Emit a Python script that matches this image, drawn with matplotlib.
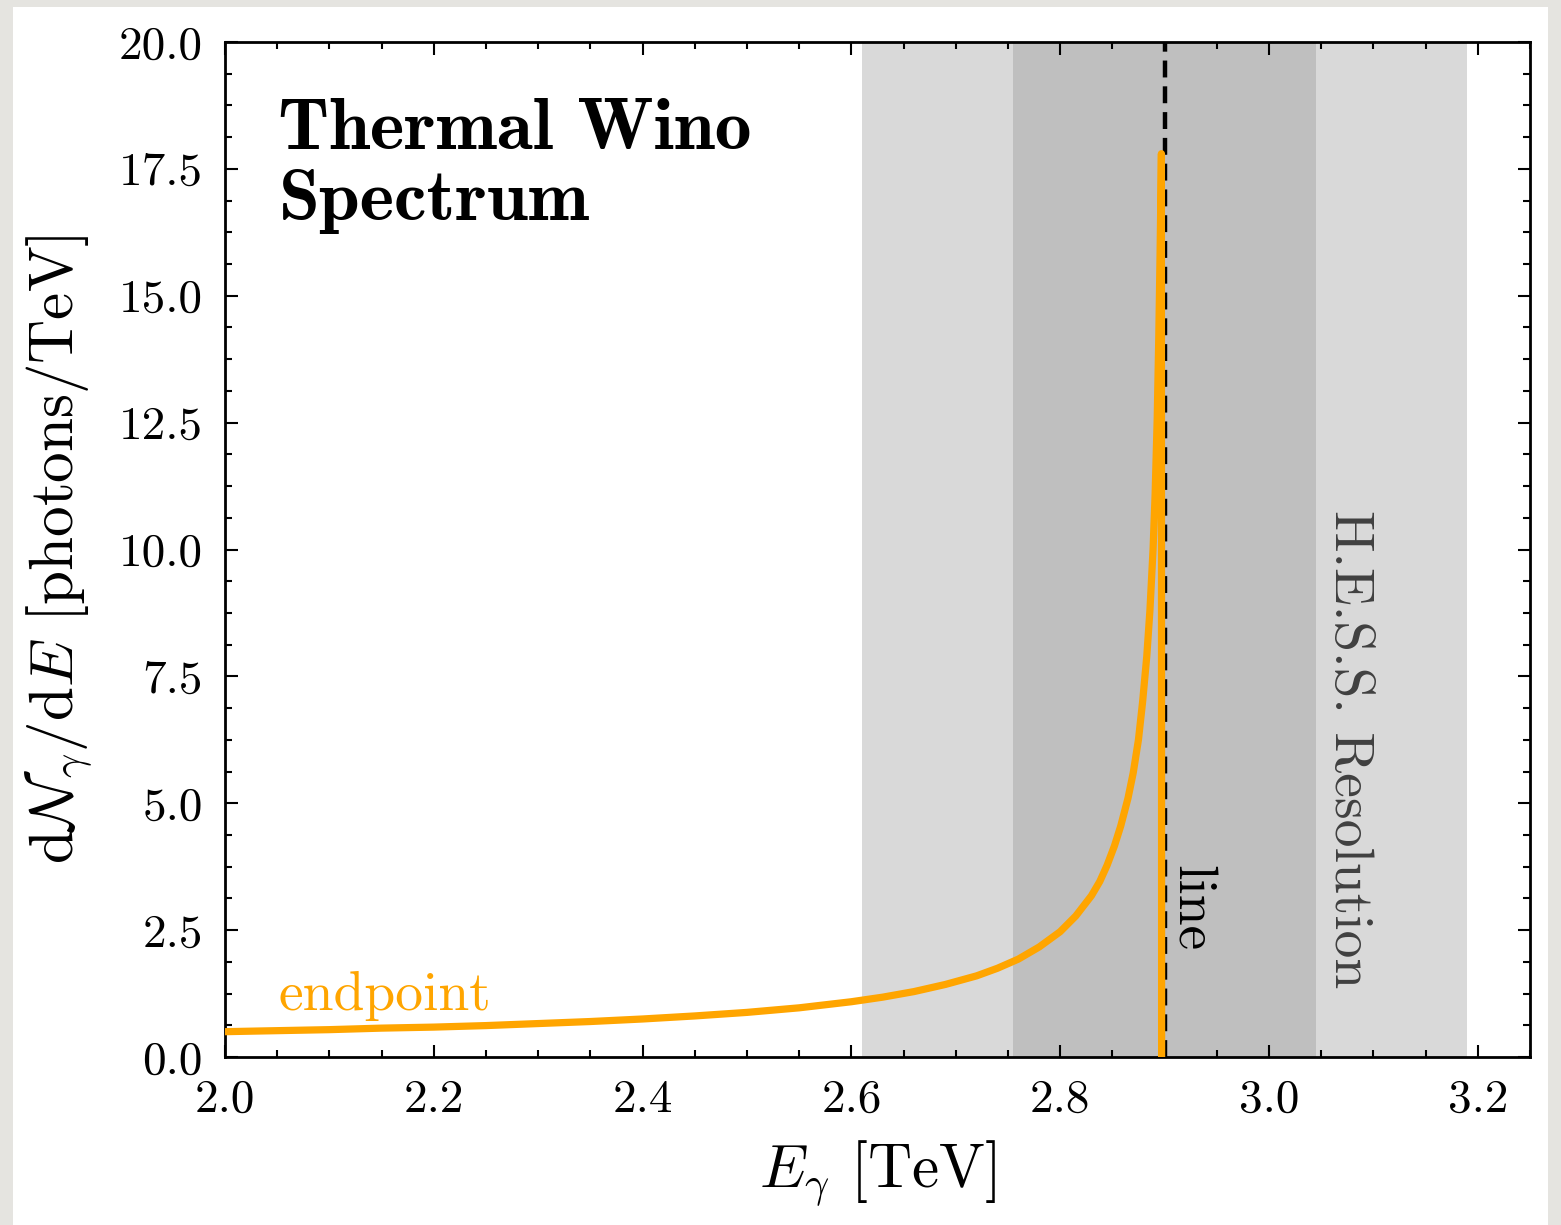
import matplotlib
matplotlib.use('Agg')
from matplotlib import pyplot
from matplotlib.patches import Rectangle
import matplotlib.ticker as ticker

pyplot.rcParams['font.family'] = 'serif'
pyplot.rcParams['font.serif'] = ['cmr10']
pyplot.rcParams['mathtext.fontset'] = 'cm'
pyplot.rcParams['axes.unicode_minus'] = False
pyplot.rcParams['axes.formatter.use_mathtext'] = True

# endpoint spectrum of the thermal wino, dN/dE in photons/TeV
energy = [2.000, 2.050, 2.100, 2.150, 2.200, 2.250, 2.300, 2.350, 2.400,
          2.450, 2.500, 2.550, 2.600, 2.630, 2.660, 2.690, 2.720, 2.740,
          2.760, 2.780, 2.800, 2.815, 2.830, 2.838, 2.845, 2.852, 2.858,
          2.865, 2.870, 2.875, 2.879, 2.883, 2.886, 2.889, 2.891, 2.893,
          2.8945, 2.8957, 2.8965, 2.8970, 2.8972]
spectrum = [0.50, 0.52, 0.54, 0.57, 0.59, 0.62, 0.66, 0.70, 0.75,
            0.81, 0.88, 0.97, 1.09, 1.18, 1.29, 1.43, 1.60, 1.75,
            1.93, 2.17, 2.47, 2.78, 3.18, 3.46, 3.78, 4.16, 4.55,
            5.10, 5.60, 6.25, 7.00, 7.90, 8.80, 10.00, 11.10, 12.60,
            14.20, 15.80, 17.00, 17.80, 0.00]

line_energy = 2.9
# H.E.S.S. energy resolution bands around the line
band_inner = (2.755, 3.045)
band_outer = (2.610, 3.190)

fig = pyplot.figure(figsize=(15.61, 12.25), dpi=100, facecolor='#e5e4e0')
fig.add_artist(Rectangle((13 / 1561, 0), 1535 / 1561, 1218 / 1225,
                         transform=fig.transFigure, facecolor='white',
                         edgecolor='none', zorder=-10))

ax = fig.add_axes([0.1441, 0.1371, 0.8360, 0.8286])
ax.set_xlim(2.0, 3.25)
ax.set_ylim(0, 20)

ax.axvspan(*band_outer, color='#d9d9d9', lw=0, zorder=0)
ax.axvspan(*band_inner, color='#bfbfbf', lw=0, zorder=1)
ax.axvline(line_energy, color='black', lw=3.2, linestyle=(0, (3.8, 2.0)), zorder=3)
ax.plot(energy, spectrum, color='orange', lw=5.2, solid_capstyle='round',
        solid_joinstyle='round', zorder=4)

ax.xaxis.set_major_locator(ticker.MultipleLocator(0.2))
ax.xaxis.set_minor_locator(ticker.MultipleLocator(0.05))
ax.yaxis.set_major_locator(ticker.MultipleLocator(2.5))
ax.yaxis.set_minor_locator(ticker.MultipleLocator(0.625))
ax.xaxis.set_major_formatter(ticker.FormatStrFormatter('%.1f'))
ax.yaxis.set_major_formatter(ticker.FormatStrFormatter('%.1f'))

ax.tick_params(which='both', direction='in', top=True, right=True, width=1.5)
ax.tick_params(which='major', length=9, labelsize=34, pad=16)
ax.tick_params(which='minor', length=5)
for s in ax.spines.values():
    s.set_linewidth(2)

ax.set_xlabel(r'$E_\gamma$ [TeV]', fontsize=44)
ax.set_ylabel(r'$\mathrm{d}\mathcal{N}_\gamma/\mathrm{d}E$ [photons/TeV]', fontsize=44)
ax.xaxis.set_label_coords(0.5, -0.08)
ax.yaxis.set_label_coords(-0.10, 0.5)

ax.text(0.041, 0.945, 'Thermal Wino\nSpectrum', transform=ax.transAxes,
        fontsize=53, family='cmb10', va='top', ha='left', linespacing=1.12)
ax.text(2.051, 0.93, 'endpoint', color='orange', fontsize=40, va='baseline')
ax.text(2.9015, 3.78, 'line', rotation=270, fontsize=40, ha='left', va='top')
ax.text(3.053, 10.78, 'H.E.S.S. Resolution', rotation=270, fontsize=40,
        color='#404040', ha='left', va='top')

fig.savefig('out.png', dpi=100, facecolor=fig.get_facecolor())
